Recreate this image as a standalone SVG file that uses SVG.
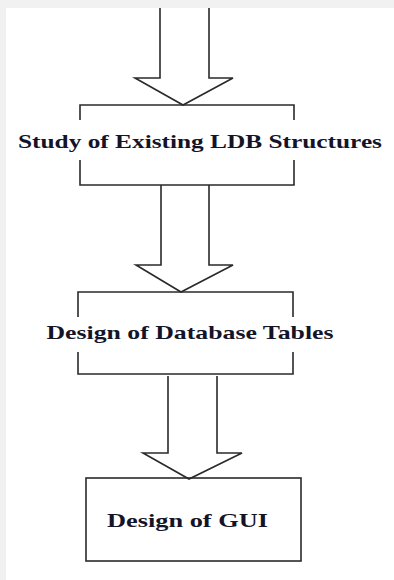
<svg xmlns="http://www.w3.org/2000/svg" width="394" height="580" viewBox="0 0 394 580">
<style>
.ln{fill:none;stroke:#2a2a2a;stroke-width:1.6;stroke-linejoin:miter}
.ar{fill:#fff;stroke:#2a2a2a;stroke-width:1.6}
.tx{font-family:"Liberation Serif",serif;font-weight:bold;font-size:19px;fill:#141428}
</style>
<rect x="0" y="0" width="394" height="580" fill="#f1f1f1"/>
<rect x="6" y="8" width="388" height="572" fill="#ffffff"/>
<g id="connectors">
<path class="ar" d="M160,8 L160,78 L135,78 L183,105 L233,78 L209,78 L209,8"/>
<path class="ar" d="M161,185 L161,265 L136,265 L181,292 L233,265 L209,265 L209,185"/>
<path class="ar" d="M168,376 L168,453 L143,453 L189,479 L242,453 L217,453 L217,376"/>
</g>
<g id="node1">
<path class="ln" d="M80,120 L80,105 L294,105 L294,120 M80,160 L80,185 L294,185 L294,160"/>
<text class="tx" x="200" y="148" text-anchor="middle" textLength="364" lengthAdjust="spacingAndGlyphs">Study of Existing LDB Structures</text>
</g>
<g id="node2">
<path class="ln" d="M78,317 L78,292 L293,292 L293,317 M78,352 L78,374 L293,374 L293,352"/>
<text class="tx" x="190" y="339" text-anchor="middle" textLength="287" lengthAdjust="spacingAndGlyphs">Design of Database Tables</text>
</g>
<g id="node3">
<rect class="ln" x="86" y="478" width="215" height="83"/>
<text class="tx" x="187.5" y="527" text-anchor="middle" textLength="161" lengthAdjust="spacingAndGlyphs">Design of GUI</text>
</g>
</svg>
